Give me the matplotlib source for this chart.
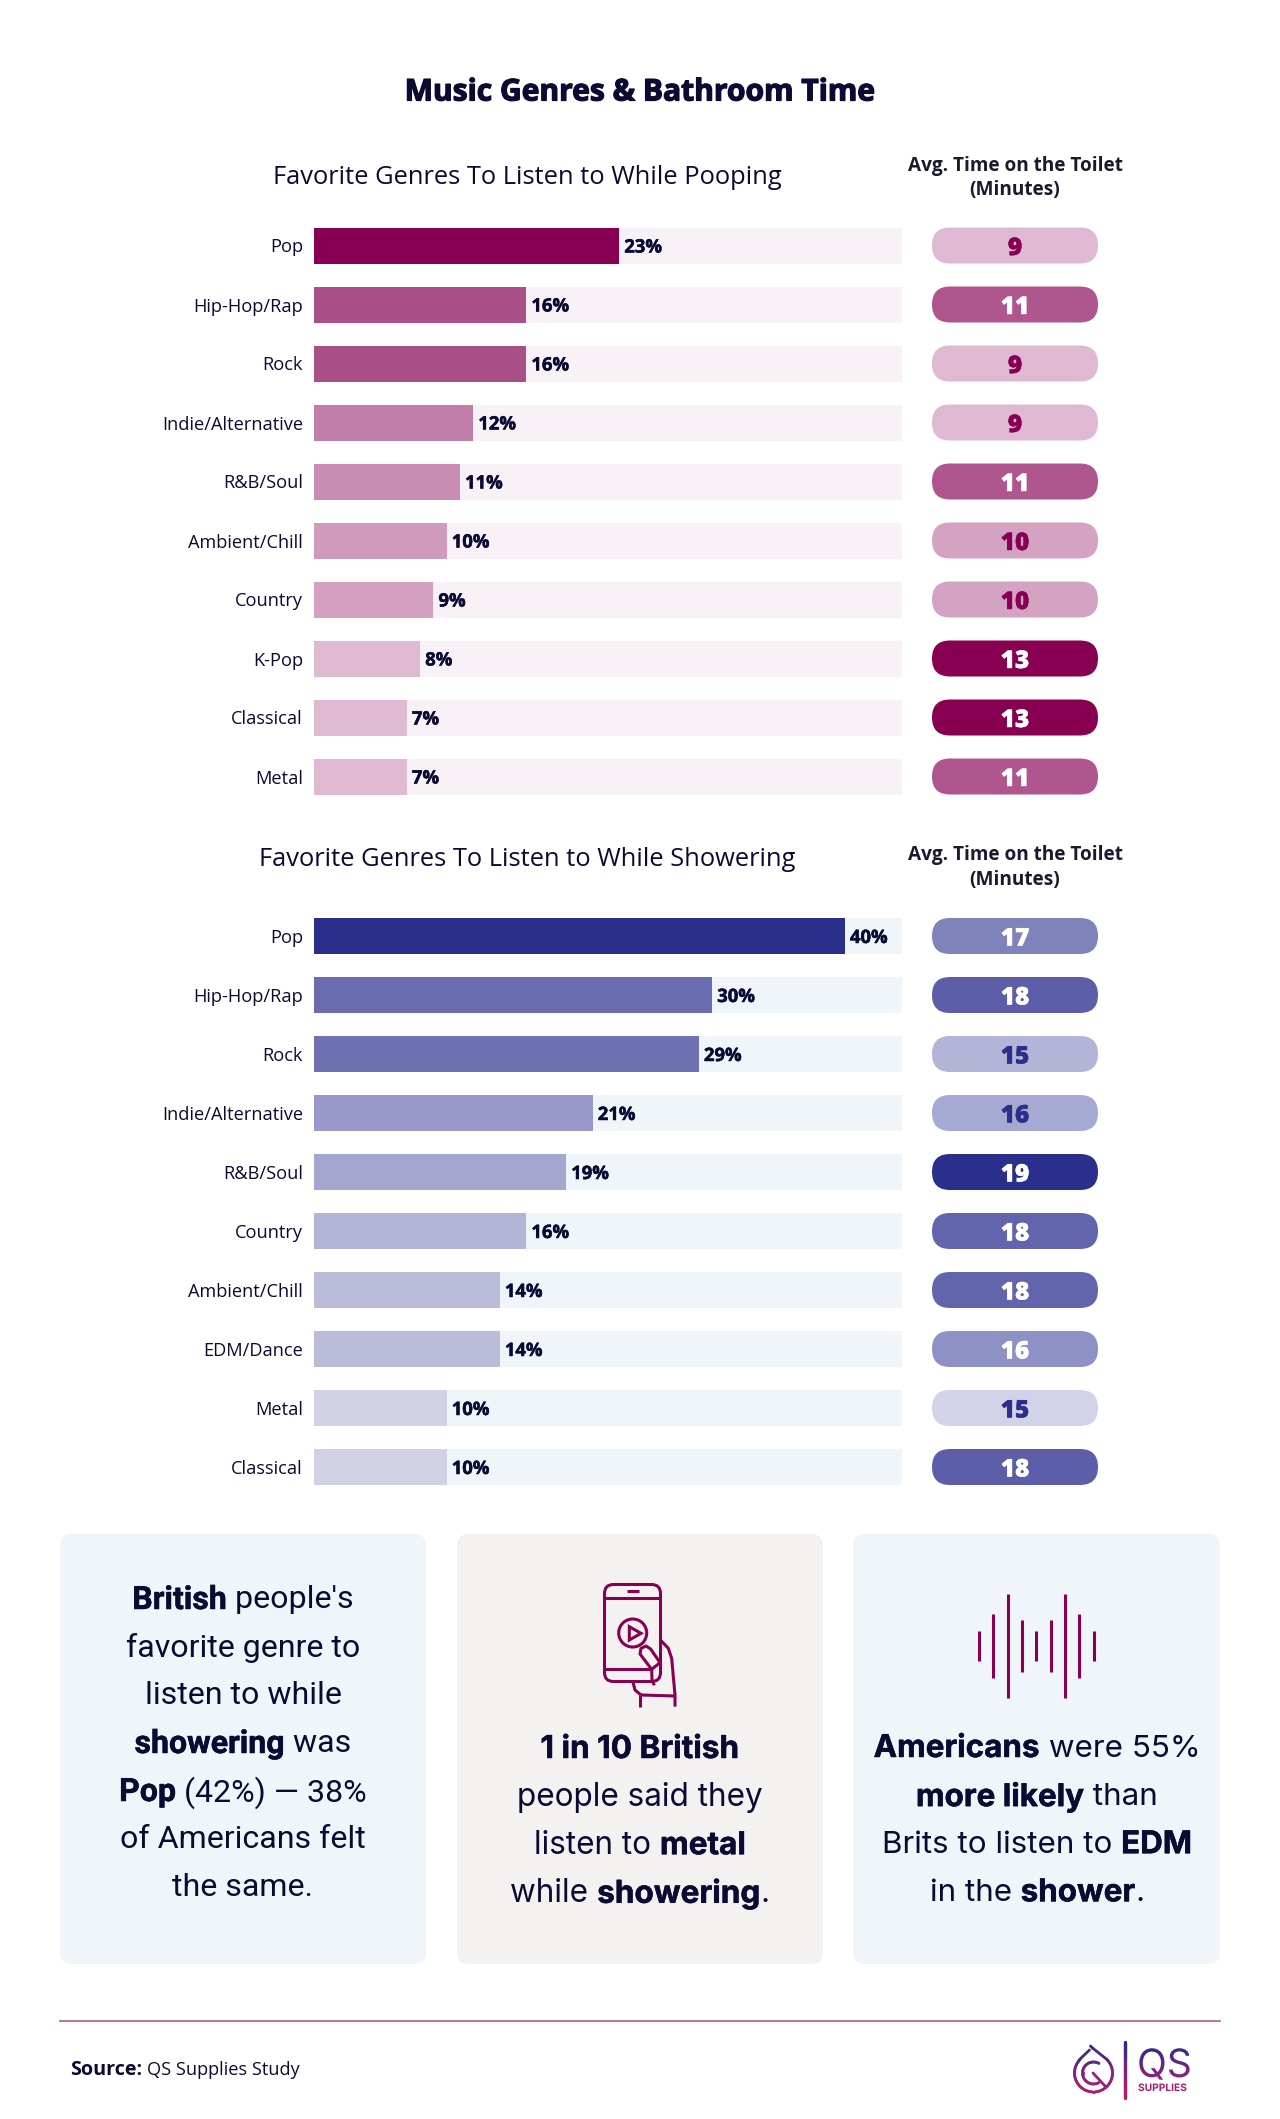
import matplotlib
matplotlib.use("Agg")
import matplotlib.pyplot as plt
import matplotlib.patheffects as pe
import numpy as np
from matplotlib.patches import Circle, FancyBboxPatch, PathPatch, Polygon
from matplotlib.path import Path
from matplotlib.textpath import TextPath
from matplotlib.font_manager import FontProperties
from matplotlib.colors import LinearSegmentedColormap

W, H = 1280, 2119
NAVY = "#0A0A33"
PLUM = "#880052"
INDIGO = "#2B2F8C"

# Data
poop_genres = ["Pop", "Hip-Hop/Rap", "Rock", "Indie/Alternative", "R&B/Soul",
               "Ambient/Chill", "Country", "K-Pop", "Classical", "Metal"]
poop_pct = [23, 16, 16, 12, 11, 10, 9, 8, 7, 7]
poop_minutes = [9, 11, 9, 9, 11, 10, 10, 13, 13, 11]
poop_bar_colors = ["#880052", "#AB4F88", "#AB4F88", "#C27EAA", "#C98CB2",
                   "#D09BBB", "#D3A0C0", "#DFB8D1", "#DFB8D1", "#DFB8D1"]
poop_pill_colors = ["#DFB8D1", "#B0568F", "#DFB8D1", "#DFB8D1", "#B0568F",
                    "#D5A3C2", "#D5A3C2", "#880052", "#880052", "#B0568F"]
poop_pill_text = [PLUM, "white", PLUM, PLUM, "white", PLUM, PLUM, "white", "white", "white"]

shower_genres = ["Pop", "Hip-Hop/Rap", "Rock", "Indie/Alternative", "R&B/Soul",
                 "Country", "Ambient/Chill", "EDM/Dance", "Metal", "Classical"]
shower_pct = [40, 30, 29, 21, 19, 16, 14, 14, 10, 10]
shower_minutes = [17, 18, 15, 16, 19, 18, 18, 16, 15, 18]
shower_bar_colors = ["#2B2F8C", "#6A6CB0", "#6F72B2", "#9899CA", "#A5A6D0",
                     "#B3B4D6", "#BBBBDA", "#BBBBDA", "#D2D2E6", "#D2D2E6"]
shower_pill_colors = ["#7F82BB", "#5C5FA8", "#B3B5D8", "#A6A9D2", "#2B2F8C",
                      "#6265AC", "#6265AC", "#8E91C3", "#D2D3E8", "#5C5FA8"]
shower_pill_text = ["white", "white", INDIGO, INDIGO, "white", "white", "white", "white", INDIGO, "white"]

card1_lines = [[("British", True), (" people's", False)],
               [("favorite genre to", False)],
               [("listen to while", False)],
               [("showering", True), (" was", False)],
               [("Pop", True), (" (42%) \u2014 38%", False)],
               [("of Americans felt", False)],
               [("the same.", False)]]
card2_lines = [[("1 in 10 British", True)],
               [("people said they", False)],
               [("listen to ", False), ("metal", True)],
               [("while ", False), ("showering", True), (".", False)]]
card3_lines = [[("Americans", True), (" were 55%", False)],
               [("more likely", True), (" than", False)],
               [("Brits to listen to ", False), ("EDM", True)],
               [("in the ", False), ("shower", True), (".", False)]]

wave_half_heights = [15, 32, 52, 26, 15, 26, 52, 32, 15]

fig = plt.figure(figsize=(W / 100, H / 100), dpi=100, facecolor="white")
bg = fig.add_axes([0, 0, 1, 1])
bg.set_xlim(0, W)
bg.set_ylim(H, 0)
bg.axis("off")

thick = [pe.withStroke(linewidth=0.35, foreground=NAVY)]


def px_axes(x0, y0, x1, y1):
    return fig.add_axes([x0 / W, 1 - y1 / H, (x1 - x0) / W, (y1 - y0) / H])


def draw_chart(genres, pct, minutes, bar_colors, pill_colors, pill_text, track, y_first):
    step = 59
    y = np.arange(len(genres))
    top = y_first - step / 2
    bottom = top + step * len(genres)

    ax = px_axes(314, top, 902, bottom)
    ax.barh(y, [44.3] * len(y), height=36 / step, color=track)
    ax.barh(y, pct, height=36 / step, color=bar_colors)
    ax.set_xlim(0, 44.3)
    ax.set_ylim(len(y) - 0.5, -0.5)
    ax.set_yticks(y, genres, fontsize=13.15, family="Open Sans", color=NAVY)
    ax.set_xticks([])
    ax.tick_params(axis="y", length=0, pad=8)
    for side in ax.spines.values():
        side.set_visible(False)
    ax.patch.set_alpha(0)
    for i, v in enumerate(pct):
        ax.annotate(f"{v}%", (v, i), xytext=(3.6, 0), textcoords="offset points",
                    va="center_baseline", fontsize=13.3, family="Open Sans",
                    weight="bold", color=NAVY, path_effects=thick)

    pill = px_axes(932, top, 1098, bottom)
    pill.set_xlim(0, 166)
    pill.set_ylim(len(y) - 0.5, -0.5)
    pill.axis("off")
    h = 36 / step
    for i, m in enumerate(minutes):
        pill.add_patch(FancyBboxPatch((0, i - h / 2), 166, h,
                                      boxstyle="round,pad=0,rounding_size=18",
                                      mutation_aspect=1 / step,
                                      fc=pill_colors[i], ec="none"))
        pill.text(83, i, str(m), ha="center", va="center_baseline", fontsize=17.5,
                  family="Open Sans", weight="heavy", color=pill_text[i],
                  path_effects=[pe.withStroke(linewidth=0.3, foreground=pill_text[i])])


draw_chart(poop_genres, poop_pct, poop_minutes, poop_bar_colors,
           poop_pill_colors, poop_pill_text, "#F8F2F7", 245.5)
draw_chart(shower_genres, shower_pct, shower_minutes, shower_bar_colors,
           shower_pill_colors, shower_pill_text, "#F0F5FA", 936)

# Headings
bg.text(640, 92.5, "Music Genres & Bathroom Time", ha="center", va="center",
        fontsize=21.6, family="Open Sans", weight="bold", color=NAVY,
        path_effects=[pe.withStroke(linewidth=0.9, foreground=NAVY)])
for txt, yy in [("Favorite Genres To Listen to While Pooping", 178),
                ("Favorite Genres To Listen to While Showering", 860)]:
    bg.text(527, yy, txt, ha="center", va="center", fontsize=18.35, family="Open Sans", color=NAVY)
for y1, y2 in [(166, 190), (855, 880)]:
    for txt, yy in [("Avg. Time on the Toilet", y1), ("(Minutes)", y2)]:
        bg.text(1015, yy, txt, ha="center", va="center", fontsize=13.7,
                family="Open Sans", weight="bold", color="#1A1A2E")

# Cards
for x0, x1, col in [(60, 426, "#F0F5FA"), (457, 823, "#F3F2F1"), (853, 1220, "#F0F5FA")]:
    bg.add_patch(FancyBboxPatch((x0, 1534), x1 - x0, 430,
                                boxstyle="round,pad=0,rounding_size=12", fc=col, ec="none"))

renderer = fig.canvas.get_renderer()


def rich_line(cx, yy, parts, size=23, family="Inter"):
    artists = []
    total = 0
    for txt, strong in parts:
        t = bg.text(0, yy, txt.replace(" ", "\u00a0"), va="center_baseline", ha="left",
                    fontsize=size, family=family,
                    weight="bold" if strong else "normal", color=NAVY)
        if strong:
            t.set_path_effects([pe.withStroke(linewidth=0.35, foreground=NAVY)])
        wid = t.get_window_extent(renderer).width
        artists.append((t, wid))
        total += wid
    x = cx - total / 2
    for t, wid in artists:
        t.set_x(x)
        x += wid


for i, parts in enumerate(card1_lines):
    rich_line(243, 1597 + 48 * i, parts, size=23.1, family="Roboto")
for i, parts in enumerate(card2_lines):
    rich_line(640, 1746 + 48.1 * i, parts, size=22.7)
for i, parts in enumerate(card3_lines):
    rich_line(1037, 1746 + 48.1 * i, parts, size=22.6)

# Waveform icon
for i, hh in enumerate(wave_half_heights):
    xx = 979 + 14.35 * i
    bg.plot([xx, xx], [1646 - hh, 1646 + hh], color=PLUM, lw=2.2, solid_capstyle="butt")


# Phone icon, coordinates follow the icon's own sketch
def ic(pts):
    a = np.array(pts, float)
    return 560 + a[:, 0] / 3, 1580 + a[:, 1] / 3


lw_icon = 2.2
bg.add_patch(FancyBboxPatch((604.5, 1584.5), 56, 97, boxstyle="round,pad=0,rounding_size=9",
                            fc="none", ec=PLUM, lw=lw_icon))
for pts in [[(133, 53), (303, 53)], [(133, 266), (275, 266)], [(200, 34), (237, 34)],
            [(303, 182), (325, 205), (335, 235), (345, 345), (345, 380)],
            [(243, 345), (345, 348)], [(240, 345), (240, 380)],
            [(219, 307), (225, 330), (243, 345)],
            [(275, 266), (276, 300), (283, 316)],
            [(300, 248), (272, 207), (258, 198), (243, 205), (240, 222), (275, 268), (300, 248)]]:
    xs, ys = ic(pts)
    bg.plot(xs, ys, color=PLUM, lw=lw_icon, solid_capstyle="butt")
bg.add_patch(Circle((632.7, 1633), 14, fc="none", ec=PLUM, lw=lw_icon))
xs, ys = ic([(208, 140), (208, 180), (243, 160)])
bg.add_patch(Polygon(np.c_[xs, ys], closed=True, fc="none", ec=PLUM, lw=lw_icon))

# Footer
bg.plot([60, 1220], [2021, 2021], color="#A8608F", lw=1.2)
t = bg.text(70, 2070, "Source:", va="center", fontsize=14.2, family="Open Sans", weight="bold", color=NAVY)
bg.text(70 + t.get_window_extent(renderer).width + 5, 2070, "QS Supplies Study", va="center",
        fontsize=13.1, family="Open Sans", color=NAVY)

# Logo
logo_cmap = LinearSegmentedColormap.from_list("logo", ["#1E2F85", "#7A2480", "#C2186B"])


def grad_line(xs, ys, y0=2042, y1=2098, lw=2.0):
    xs, ys = np.asarray(xs), np.asarray(ys)
    for k in range(len(xs) - 1):
        c = logo_cmap((0.5 * (ys[k] + ys[k + 1]) - y0) / (y1 - y0))
        bg.plot(xs[k:k + 2], ys[k:k + 2], color=c, lw=lw, solid_capstyle="round")


grad_line(np.full(30, 1124.5), np.linspace(2042, 2098, 30), lw=2.4)
cx, cy = 1093.5, 2073
th = np.radians(np.linspace(-45, 225, 60))
grad_line(cx + 19 * np.cos(th), cy + 19 * np.sin(th), lw=2.0)
grad_line([cx - 14.5, cx - 4, cx - 4], [2060, 2050, 2050], lw=2.0)
grad_line([cx + 13.5, cx - 1, cx - 3], [2059.5, 2048, 2046], lw=2.0)
th3 = np.radians(np.linspace(60, 300, 40))
grad_line(cx + 11 * np.cos(th3), cy + 11 * np.sin(th3), lw=2.0)
grad_line([1093, 1105], [2073, 2086], lw=2.0)


def grad_text(txt, x, y, size, weight, family="Inter", y0=2042, y1=2098):
    tp = TextPath((x, -y), txt, size=size, prop=FontProperties(family=family, weight=weight))
    verts = tp.vertices.copy()
    verts[:, 1] *= -1
    patch = PathPatch(Path(verts, tp.codes), fc="none", ec="none")
    bg.add_patch(patch)
    im = bg.imshow(np.linspace(0, 1, 256)[:, None], cmap=logo_cmap, vmin=0, vmax=1,
                   extent=[1130, 1200, y1, y0], aspect="auto", zorder=3)
    im.set_clip_path(patch)


grad_text("QS", 1137, 2077, 39, "normal")
grad_text("SUPPLIES", 1138, 2091, 10.2, "bold")
bg.set_xlim(0, W)
bg.set_ylim(H, 0)

fig.savefig("out.png", dpi=100)
